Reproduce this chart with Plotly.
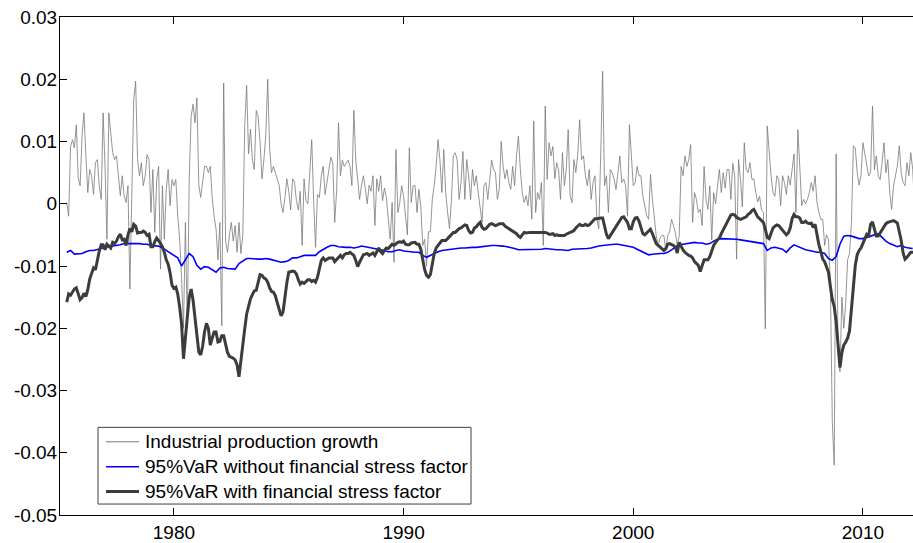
import plotly.graph_objects as go

# Monthly observations, May 1975 onwards (values in thousandths)
first_year, first_month = 1975, 5

ip_growth_pm = [
    0.2, -2.0, 9.2, 10.3, 9.0, 12.7, 4.2, 2.9, 10.9, 14.6, 7.7, 1.8,
    5.5, 4.5, 1.5, 6.6, 7.1, 2.9, 0.7, 14.6, 6.0, -5.7, 14.6, 10.9,
    8.2, 7.1, 7.7, 4.5, 1.3, 4.5, 1.3, 0.2, 2.9, -13.7, 0.7, 16.7,
    19.7, 7.1, 4.5, 6.6, 2.9, 4.5, 7.9, 7.1, -1.4, 5.5, -4.6, 3.9,
    6.0, -10.5, 2.9, -5.7, 2.3, 5.5, -0.3, 3.9, 2.9, 3.9, -2.0, -5.7,
    -12.0, -20.0, -3.0, -20.0, 4.0, 14.0, 16.0, 13.0, 17.0, 3.0, 1.0, 4.0,
    6.0, 6.0, 5.0, 6.0, 1.0, -2.0, -4.0, -9.0, -3.0, -19.6, 19.4, -6.0,
    -7.8, -5.0, -3.0, -6.0, -3.5, -7.8, -3.0, -8.0, -5.0, 12.5, 19.0, 8.0,
    12.0, 7.0, 5.5, 15.0, 14.0, 10.0, 4.0, 7.0, 11.0, 20.0, 9.0, 5.0,
    6.0, 5.0, 4.0, 3.0, 0.0, -1.4, 1.0, 4.0, 2.0, -1.0, 4.0, 3.5,
    0.5, -1.0, 2.0, -6.7, 4.0, 0.5, 0.0, 4.5, 10.3, 0.5, -7.0, 1.5,
    1.0, 4.5, 6.0, 1.5, 3.5, 5.5, 7.5, 6.5, -3.0, 2.0, 13.0, 4.5,
    7.0, 6.0, 6.5, 7.0, 6.0, 2.9, 15.0, 7.0, 4.0, 0.7, 3.0, 4.5,
    2.5, 0.0, 3.0, 2.0, 4.5, -3.5, 4.0, 2.0, 4.5, 0.5, 2.5, 1.0,
    -2.5, -5.7, 0.2, -9.4, 8.7, -1.4, 0.2, 2.9, 1.2, -2.0, -5.0, 9.0,
    0.2, 2.9, 2.9, -1.4, 2.3, -0.5, -6.7, -5.7, -10.0, -4.5, -4.5, 0.7,
    2.9, 6.0, 10.3, 7.0, 1.8, 8.7, 1.8, -1.4, -4.0, 0.7, 7.7, 8.2,
    7.0, 0.7, 3.4, 8.4, 0.7, 7.1, 4.5, 0.7, 5.5, 2.9, 4.5, 1.8,
    -0.3, -3.0, 2.9, 3.4, 0.7, 4.5, 7.0, 5.5, 5.0, 0.7, 2.3, 10.0,
    6.0, 4.0, 5.5, 3.4, 2.3, 6.0, 2.9, 7.7, 10.9, 5.5, 1.8, 0.2,
    1.3, -0.3, 2.9, -2.5, 13.3, -1.4, 1.8, 0.7, 3.4, -6.7, 15.7, 3.9,
    9.8, 7.7, 9.2, 4.0, 6.6, 5.5, 0.7, 8.2, 2.9, 5.5, 11.9, 1.3,
    0.2, 7.1, 5.0, 8.0, 13.5, 7.1, 7.7, 4.5, 2.9, 5.5, 0.7, 3.4,
    4.5, -2.5, -4.0, 8.0, 21.3, 2.9, 4.5, -1.4, 5.5, 5.0, 3.9, 2.3,
    5.0, 7.7, 3.4, 4.0, 2.9, -2.0, 12.7, 8.2, 2.9, 3.4, 6.0, 4.5,
    4.5, 1.2, -0.3, -1.9, -2.5, 4.7, 0.7, -2.5, -5.1, -6.7, -5.5, -5.1,
    -5.1, -7.5, -5.1, -4.5, -2.5, -3.5, -4.6, -6.7, -5.2, 6.0, 4.5, 7.7,
    6.0, 7.1, 9.5, -3.0, 1.8, 0.7, -1.4, -0.9, -3.5, 6.0, 0.7, -0.9,
    2.9, -5.8, 1.8, 0.0, 3.4, 5.5, 1.8, 5.0, 2.5, 5.5, 5.5, 0.7,
    6.5, 4.5, -8.9, 7.1, 4.0, -0.5, 9.8, 5.5, 5.0, 6.6, 3.9, 4.0,
    1.8, 0.3, 1.2, -1.0, -1.4, -20.1, 12.5, 7.7, 4.5, 1.8, 1.2, 4.5,
    3.9, -0.3, 4.5, 3.4, 1.5, 4.5, 3.0, 5.5, 8.0, -1.4, 11.9, 6.0,
    -0.3, 0.7, 0.0, 0.7, 1.8, 3.4, 2.0, 4.5, 0.2, -1.4, -2.5, -2.5,
    -6.7, -5.0, -5.7, -13.0, -35.0, -42.0, 8.0, -24.0, -27.0, -15.0, -20.0, -16.0,
    -9.0, -8.0, -3.0, 9.3, 9.0, 5.0, 3.0, 4.5, 9.8, 8.0, 6.0, 4.5,
    5.0, 15.7, 5.5, 7.7, 4.5, 3.9, 6.6, 9.8, 5.0, 7.1, 1.8, -0.9,
    2.9, 4.5, 6.1, 9.3, 5.0, 3.4, 2.9, 6.6, 4.5, 8.2, 5.5, -0.5,
]

var_with_fsf_pm = [
    -15.8, -14.5, -14.7, -14.2, -13.7, -13.5, -14.3, -15.4, -15.1, -14.4, -14.9, -13.8,
    -12.1, -11.0, -10.3, -10.6, -8.9, -7.6, -6.6, -6.6, -7.4, -6.5, -6.8, -7.1,
    -6.2, -6.4, -6.0, -5.3, -4.9, -5.8, -5.7, -6.7, -5.0, -4.0, -4.5, -3.3,
    -3.6, -4.7, -4.6, -4.6, -4.4, -4.6, -5.1, -4.9, -6.9, -6.9, -6.1, -5.5,
    -5.9, -6.5, -6.9, -7.8, -9.0, -9.7, -11.1, -13.1, -13.6, -13.4, -14.5, -16.6,
    -19.3, -24.9, -22.1, -18.2, -15.0, -13.7, -15.5, -18.5, -21.4, -23.8, -24.3, -22.9,
    -20.6, -19.2, -20.0, -22.7, -21.6, -20.6, -20.6, -22.2, -22.1, -21.2, -21.2, -22.4,
    -23.9, -24.5, -24.6, -24.8, -25.1, -25.9, -27.8, -25.5, -23.3, -20.1, -17.7, -16.5,
    -15.3, -14.6, -14.0, -13.9, -12.7, -11.4, -11.5, -11.9, -12.1, -12.6, -13.5, -14.1,
    -14.2, -14.8, -15.9, -17.2, -18.0, -17.4, -14.9, -12.7, -11.0, -10.9, -10.8, -10.9,
    -11.3, -12.2, -12.9, -12.6, -12.8, -12.5, -12.2, -12.2, -12.5, -12.3, -12.6, -11.8,
    -10.2, -9.1, -8.7, -9.1, -8.9, -8.7, -8.7, -8.7, -9.3, -9.0, -8.6, -8.3,
    -8.7, -8.2, -8.0, -8.0, -7.8, -8.1, -8.3, -9.1, -10.1, -9.4, -8.9, -8.2,
    -8.1, -8.0, -8.3, -8.1, -7.9, -8.3, -7.8, -7.1, -7.7, -8.0, -7.5, -7.1,
    -7.2, -6.8, -6.5, -6.7, -6.4, -6.2, -6.1, -6.2, -6.0, -6.5, -6.6, -6.6,
    -6.3, -6.2, -6.2, -6.5, -6.5, -7.3, -9.2, -10.6, -11.5, -11.8, -11.4, -9.7,
    -8.0, -7.1, -6.6, -6.3, -5.9, -5.9, -5.9, -5.6, -5.3, -5.0, -4.6, -4.6,
    -4.3, -4.0, -3.9, -3.6, -3.4, -3.5, -4.3, -4.7, -4.6, -3.9, -3.7, -3.3,
    -3.0, -3.8, -4.1, -4.0, -3.7, -3.3, -3.2, -3.3, -3.5, -3.4, -3.2, -3.2,
    -3.2, -3.6, -3.8, -3.9, -4.1, -4.3, -4.5, -4.8, -5.2, -5.4, -5.0, -4.6,
    -4.7, -4.6, -4.6, -4.6, -4.6, -4.6, -4.6, -4.6, -4.6, -4.5, -4.6, -4.7,
    -4.9, -4.9, -4.8, -5.1, -5.0, -5.1, -5.1, -5.1, -5.1, -4.9, -4.7, -4.6,
    -4.5, -4.3, -3.9, -3.5, -3.3, -3.5, -3.5, -3.3, -3.5, -3.4, -3.1, -2.7,
    -2.4, -2.4, -2.3, -2.3, -2.3, -3.7, -4.9, -5.6, -5.1, -4.6, -4.2, -3.7,
    -3.2, -2.6, -2.2, -2.1, -2.5, -3.0, -4.0, -4.0, -2.9, -2.3, -2.2, -2.8,
    -3.8, -4.8, -5.0, -4.7, -4.3, -4.1, -4.8, -5.8, -6.4, -6.7, -7.0, -7.3,
    -7.5, -7.2, -6.5, -6.4, -6.5, -6.7, -7.0, -7.9, -6.2, -6.9, -7.4, -7.8,
    -8.1, -8.3, -8.4, -8.7, -9.3, -9.6, -9.9, -10.9, -9.9, -9.0, -9.0, -9.0,
    -8.5, -7.6, -6.7, -6.2, -5.8, -5.5, -4.8, -4.2, -3.6, -3.0, -2.4, -1.8,
    -1.7, -1.8, -2.2, -2.4, -2.5, -2.4, -2.3, -2.1, -1.7, -1.5, -1.1, -0.9,
    -1.5, -2.1, -2.4, -2.7, -3.0, -4.1, -5.4, -5.6, -4.6, -3.9, -3.6, -3.4,
    -3.5, -3.9, -4.2, -4.7, -5.0, -4.7, -3.9, -2.4, -1.7, -2.1, -2.1, -2.3,
    -3.0, -3.0, -2.8, -3.1, -3.2, -3.1, -3.8, -3.3, -5.2, -6.6, -7.7, -8.9,
    -9.3, -10.3, -11.0, -13.3, -15.4, -16.5, -19.0, -22.6, -26.3, -23.9, -22.7, -22.2,
    -21.6, -20.4, -16.9, -12.6, -9.9, -8.2, -7.5, -7.1, -6.3, -5.4, -4.9, -5.1,
    -3.3, -2.9, -4.3, -5.2, -5.2, -4.7, -4.1, -3.5, -3.2, -3.0, -2.9, -2.7,
    -2.7, -2.9, -3.1, -4.5, -5.9, -7.9, -8.9, -8.6, -8.1, -7.8, -7.8, -7.8,
]

# Bi-monthly observations from the same start date
var_without_fsf_pm = [
    -7.8, -7.5, -8.1, -8.1, -8.0, -7.7, -7.5, -7.5, -7.4, -7.2, -7.0, -6.9,
    -6.9, -6.7, -6.6, -6.4, -6.4, -6.3, -6.3, -6.4, -6.5, -6.5, -6.7, -6.7,
    -6.8, -7.1, -7.5, -7.8, -8.3, -8.7, -10.0, -9.0, -8.0, -8.5, -9.9, -10.5,
    -10.1, -10.2, -10.6, -11.0, -10.3, -10.2, -10.4, -10.5, -10.5, -9.6, -9.2, -8.8,
    -8.8, -8.9, -8.9, -8.9, -8.8, -8.9, -9.1, -9.3, -9.4, -9.3, -9.1, -8.7,
    -8.7, -8.5, -8.3, -8.3, -8.3, -8.3, -7.7, -7.3, -7.0, -6.7, -6.7, -6.9,
    -7.0, -7.0, -7.0, -7.1, -7.0, -6.8, -6.9, -7.0, -7.2, -7.3, -7.4, -7.5,
    -7.7, -7.7, -7.5, -7.4, -7.6, -7.7, -7.8, -7.8, -7.8, -8.3, -8.6, -8.3,
    -7.9, -7.7, -7.5, -7.4, -7.3, -7.2, -7.1, -7.1, -7.1, -7.0, -7.0, -7.0,
    -6.9, -6.9, -6.8, -6.7, -6.7, -6.7, -6.8, -6.9, -7.0, -7.2, -7.4, -7.4,
    -7.4, -7.3, -7.3, -7.3, -7.3, -7.2, -7.3, -7.4, -7.4, -7.4, -7.4, -7.5,
    -7.3, -7.3, -7.3, -7.2, -7.2, -7.1, -6.9, -6.8, -6.7, -6.6, -6.6, -6.5,
    -6.5, -6.6, -6.7, -6.9, -7.0, -7.3, -7.6, -7.9, -8.2, -8.1, -8.0, -8.0,
    -8.0, -7.8, -7.4, -6.9, -6.5, -6.5, -6.4, -6.3, -6.2, -6.3, -6.3, -6.5,
    -6.4, -6.0, -5.7, -5.6, -5.6, -5.7, -5.7, -5.7, -5.8, -5.9, -5.9, -6.1,
    -6.1, -6.2, -6.4, -7.5, -7.1, -7.0, -7.1, -7.3, -7.8, -7.1, -6.6, -6.9,
    -7.2, -7.4, -7.5, -7.7, -7.8, -7.8, -8.0, -8.8, -9.1, -8.5, -6.5, -5.2,
    -5.1, -5.2, -5.4, -5.6, -5.6, -5.4, -5.2, -5.0, -4.8, -5.4, -6.0, -6.4,
    -6.6, -6.9, -6.7, -7.0, -7.1, -7.2,
]

x_ticks = [1980, 1990, 2000, 2010]
y_ticks = [0.03, 0.02, 0.01, 0.0, -0.01, -0.02, -0.03, -0.04, -0.05]
y_tick_text = ["0.03", "0.02", "0.01", "0", "-0.01", "-0.02", "-0.03", "-0.04", "-0.05"]

series_names = [
    "Industrial production growth",
    "95%VaR without financial stress factor",
    "95%VaR with financial stress factor",
]
series_colors = ["#7a7a7a", "#0000ff", "#3c3c3c"]
series_widths = [0.8, 1.6, 3]


def month_axis(n, step=1):
    t0 = first_year + (first_month - 1) / 12.0
    return [t0 + i * step / 12.0 for i in range(n)]


def scale(values):
    return [v / 1000.0 for v in values]


series = [
    (month_axis(len(ip_growth_pm)), scale(ip_growth_pm)),
    (month_axis(len(var_without_fsf_pm), 2), scale(var_without_fsf_pm)),
    (month_axis(len(var_with_fsf_pm)), scale(var_with_fsf_pm)),
]

fig = go.Figure()
for (xs, ys), name, color, width in zip(series, series_names, series_colors, series_widths):
    fig.add_trace(go.Scatter(
        x=xs, y=ys, mode="lines", name=name,
        line=dict(color=color, width=width),
    ))

font_family = "Liberation Sans, Arial, sans-serif"
W, H = 913, 543
M = dict(l=60, r=0, t=17, b=26)
plot_w = W - M["l"] - M["r"]
plot_h = H - M["t"] - M["b"]


def px_to_paper(px, py):
    return (px - M["l"]) / plot_w, (H - M["b"] - py) / plot_h


# Legend box in the lower-left corner of the axes
shapes = []
annotations = []
bx0, by0 = px_to_paper(98, 506)
bx1, by1 = px_to_paper(471, 429)
shapes.append(dict(
    type="rect", xref="paper", yref="paper", x0=bx0, y0=by0, x1=bx1, y1=by1,
    line=dict(color="#404040", width=1), fillcolor="white", layer="above",
))
for i, (name, color, width) in enumerate(zip(series_names, series_colors, series_widths)):
    row_y = 443.5 + 25 * i
    lx0, ly = px_to_paper(106, row_y)
    lx1, _ = px_to_paper(139, row_y)
    tx, _ = px_to_paper(143, row_y)
    shapes.append(dict(
        type="line", xref="paper", yref="paper", x0=lx0, x1=lx1, y0=ly, y1=ly,
        line=dict(color=color, width=max(width, 1.0)), layer="above",
    ))
    annotations.append(dict(
        xref="paper", yref="paper", x=tx, y=ly, text=name, showarrow=False,
        xanchor="left", yanchor="middle",
        font=dict(family=font_family, size=19, color="black"),
    ))

fig.update_layout(
    width=W, height=H,
    margin=M,
    paper_bgcolor="white", plot_bgcolor="white",
    font=dict(family=font_family, size=19, color="black"),
    showlegend=False,
    shapes=shapes,
    annotations=annotations,
)
fig.update_xaxes(
    range=[1975.04, 2012.18],
    tickmode="array", tickvals=x_ticks, ticktext=[str(v) for v in x_ticks],
    ticks="inside", ticklen=7, tickwidth=1, tickcolor="black",
    showline=True, linecolor="black", linewidth=1, mirror="ticks",
    showgrid=False, zeroline=False,
    tickfont=dict(size=19),
)
fig.update_yaxes(
    range=[-0.05, 0.03],
    tickmode="array", tickvals=y_ticks, ticktext=y_tick_text,
    ticks="inside", ticklen=7, tickwidth=1, tickcolor="black",
    showline=True, linecolor="black", linewidth=1, mirror=False,
    showgrid=False, zeroline=False,
    tickfont=dict(size=19),
    ticklabelstandoff=-2,
)

fig.write_html("out.html")
